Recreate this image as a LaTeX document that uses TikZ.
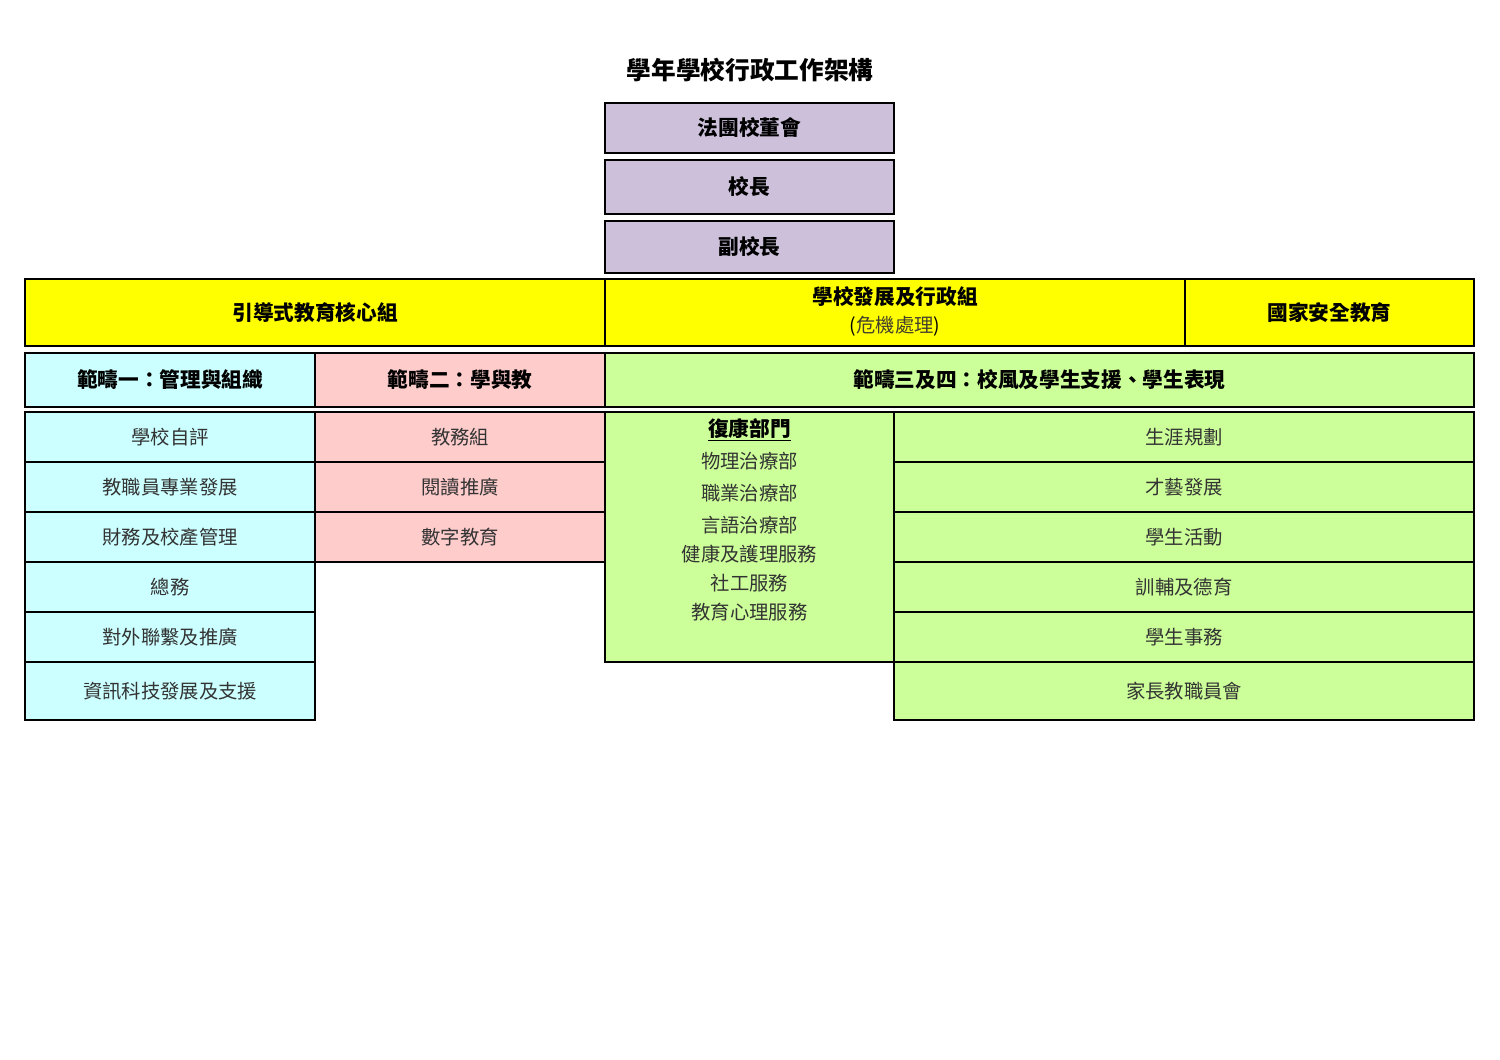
\documentclass[tikz,border=0pt]{standalone}
\usepackage{fontspec}
\setmainfont{Noto Sans CJK TC}
\definecolor{cpurple}{HTML}{CCC0DA}
\definecolor{cyellow}{HTML}{FFFF00}
\definecolor{ccyan}{HTML}{CCFFFF}
\definecolor{cpink}{HTML}{FFCCCC}
\definecolor{cgreen}{HTML}{CCFF99}
\definecolor{itemtext}{HTML}{333333}
\tikzset{
  cell/.style={draw=black, line width=1.7pt, inner sep=0pt, outer sep=0pt, anchor=center},
  hdr/.style={font=\fontsize{15.5}{18}\selectfont\bfseries},
  itm/.style={font=\fontsize{14.5}{17}\selectfont, text=itemtext},
  txt/.style={inner sep=0pt, anchor=center},
}
\begin{document}
\begin{tikzpicture}[x=0.75pt, y=-0.75pt]
\useasboundingbox[fill=white] (0,0) rectangle (1500,1060);
% title
\node[txt, font=\fontsize{18.5}{22}\selectfont\bfseries] (title) at (750,70) {學年學校行政工作架構};
% top
\node[cell, fill=cpurple, minimum width=216.75pt, minimum height=37.5pt, hdr] (board) at (749.5,128) {法團校董會};
\node[cell, fill=cpurple, minimum width=216.75pt, minimum height=40.5pt, hdr] (principal) at (749.5,187) {校長};
\node[cell, fill=cpurple, minimum width=216.75pt, minimum height=39pt, hdr] (vice) at (749.5,247) {副校長};
% yellow row
\node[cell, fill=cyellow, minimum width=435pt, minimum height=50.25pt, hdr] (core) at (315,312.5) {引導式教育核心組};
\node[cell, fill=cyellow, minimum width=435pt, minimum height=50.25pt] (dev) at (895,312.5) {};
\node[txt, hdr] (devA) at (895,297) {學校發展及行政組};
\node[txt, font=\fontsize{14.5}{17}\selectfont] (devB) at (895,326) {(\textcolor{black!70!olive}{危機處理})};
\node[cell, fill=cyellow, minimum width=216.75pt, minimum height=50.25pt, hdr] (natsec) at (1329.5,312.5) {國家安全教育};
% category row
\node[cell, fill=ccyan, minimum width=217.5pt, minimum height=40.5pt, hdr] (cat1) at (170,380) {範疇一：管理與組織};
\node[cell, fill=cpink, minimum width=217.5pt, minimum height=40.5pt, hdr] (cat2) at (460,380) {範疇二：學與教};
\node[cell, fill=cgreen, minimum width=651.75pt, minimum height=40.5pt, hdr] (cat3) at (1039.5,380) {範疇三及四：校風及學生支援、學生表現};
% cyan column
\tikzset{cy/.style={cell, fill=ccyan, minimum width=217.5pt, itm},
         pk/.style={cell, fill=cpink, minimum width=217.5pt, itm},
         gr/.style={cell, fill=cgreen, minimum width=435pt, itm}}
\node[cy, minimum height=37.5pt] (a1) at (170,437) {學校自評};
\node[cy, minimum height=37.5pt] (a2) at (170,487) {教職員專業發展};
\node[cy, minimum height=37.5pt] (a3) at (170,537) {財務及校產管理};
\node[cy, minimum height=37.5pt] (a4) at (170,587) {總務};
\node[cy, minimum height=37.5pt] (a5) at (170,637) {對外聯繫及推廣};
\node[cy, minimum height=43.5pt] (a6) at (170,691) {資訊科技發展及支援};
% pink column
\node[pk, minimum height=37.5pt] (b1) at (460,437) {教務組};
\node[pk, minimum height=37.5pt] (b2) at (460,487) {閱讀推廣};
\node[pk, minimum height=37.5pt] (b3) at (460,537) {數字教育};
% rehab block
\node[cell, fill=cgreen, minimum width=216.75pt, minimum height=187.5pt] (rehab) at (749.5,537) {};
\node[txt, hdr] (r0) at (749.5,430) {\underline{復康部門}};
\node[txt, itm] (r1) at (749.5,461) {物理治療部};
\node[txt, itm] (r2) at (749.5,493) {職業治療部};
\node[txt, itm] (r3) at (749.5,525) {言語治療部};
\node[txt, itm] (r4) at (749.5,554) {健康及護理服務};
\node[txt, itm] (r5) at (749.5,583) {社工服務};
\node[txt, itm] (r6) at (749.5,612) {教育心理服務};
% right green column
\node[gr, minimum height=37.5pt] (c1) at (1184,437) {生涯規劃};
\node[gr, minimum height=37.5pt] (c2) at (1184,487) {才藝發展};
\node[gr, minimum height=37.5pt] (c3) at (1184,537) {學生活動};
\node[gr, minimum height=37.5pt] (c4) at (1184,587) {訓輔及德育};
\node[gr, minimum height=37.5pt] (c5) at (1184,637) {學生事務};
\node[gr, minimum height=43.5pt] (c6) at (1184,691) {家長教職員會};
\end{tikzpicture}
\end{document}
